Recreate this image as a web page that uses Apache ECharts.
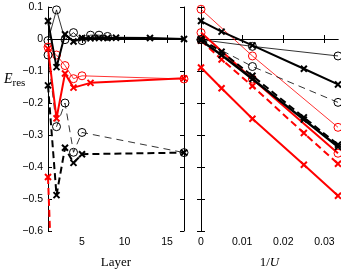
<!DOCTYPE html>
<html><head><meta charset="utf-8">
<script src="https://cdn.jsdelivr.net/npm/echarts@6/dist/echarts.min.js"></script>
<style>html,body{margin:0;padding:0;background:#fff}#c{width:341px;height:274px}</style>
</head><body><div id="c"></div><script>
// tick values
const layerTicks = [5, 10, 15];
const invUTicks = [0, 0.01, 0.02, 0.03];
const yTicks = [0.1, 0, -0.1, -0.2, -0.3, -0.4, -0.5, -0.6];

// Left panel: [layer, E_res]
const L_blackCircleSolid = [[1,-0.005],[2,0.091],[3,-0.002],[4,0.02],[5,-0.005],[6,0.012],[7,0.012],[8,0.008]];
const L_blackCrossSolid = [[1,0.056],[2,-0.088],[3,0.015],[4,-0.008],[5,0.003],[6,0.002],[7,0.003],[8,0.003],[9,0.004],[13,0.003],[17,0.0]];
const L_redCircleSolid = [[1,-0.025],[2,-0.05],[3,-0.083],[4,-0.124],[5,-0.115],[17,-0.125]];
const L_redCrossSolid = [[1,-0.03],[2,-0.248],[3,-0.108],[4,-0.152],[6,-0.137],[17,-0.123]];
const L_blackCircleDashed = [[1,-0.05],[2,-0.274],[3,-0.2],[4,-0.354],[5,-0.292],[17,-0.355]];
const L_blackCrossDashed = [[1,-0.145],[2,-0.488],[3,-0.34],[4,-0.387],[5,-0.36],[17,-0.355]];
const L_redCrossDashed = [[1,-0.431],[2,-1.15]];

// Right panel: [1/U, E_res]
const R_redCircleThin = [[0,0.093],[0.0125,-0.053],[0.0333,-0.276]];
const R_blackCrossSolid = [[0,0.056],[0.005,0.023],[0.0125,-0.02],[0.025,-0.093],[0.0333,-0.142]];
const R_blackCircleSolid = [[0,-0.002],[0.0125,-0.023],[0.0333,-0.053]];
const R_blackCircleDashed = [[0,-0.002],[0.0125,-0.086],[0.0333,-0.198]];
const R_blackCrossDashed = [[0,0.0],[0.005,-0.04],[0.0125,-0.115],[0.025,-0.245],[0.0333,-0.33]];
const R_blackCrossThick = [[0,-0.005],[0.005,-0.05],[0.0125,-0.125],[0.025,-0.252],[0.0333,-0.337]];
const R_redCircleThick = [[0,0.02],[0.0125,-0.125],[0.0333,-0.357]];
const R_redCrossDashed = [[0,-0.005],[0.005,-0.064],[0.0125,-0.147],[0.025,-0.294],[0.0333,-0.39]];
const R_redCrossSolid = [[0,-0.089],[0.005,-0.154],[0.0125,-0.249],[0.025,-0.393],[0.0333,-0.49]];

const RED = '#ff0000', BLK = '#000000';
const XSYM = 'path://M0,0L10,10M10,0L0,10';
const fmtY = v => Math.abs(v) < 1e-9 ? '0' : v.toFixed(1).replace('-', '\u2212');

function ser(data, color, kind, width, dash, gi) {
  const isX = kind === 'x';
  return {
    type: 'line', data, xAxisIndex: gi * 2, yAxisIndex: gi * 2,
    symbol: isX ? XSYM : 'circle', symbolSize: isX ? 6 : 8,
    showAllSymbol: true, animation: false, clip: true,
    lineStyle: { color, width, type: dash ? (width > 1.5 ? [7, 4] : [7, 5]) : 'solid' },
    itemStyle: { color: isX ? 'rgba(0,0,0,0)' : 'rgba(0,0,0,0)', borderColor: color, borderWidth: isX ? 2 : 1 },
    z: isX ? 3 : 2
  };
}

const tickStyle = { inside: true, length: 4, lineStyle: { color: '#000', width: 1 } };
const lineAx = { show: true, lineStyle: { color: '#000', width: 1 } };
const lab = { fontFamily: 'Liberation Sans, Arial, sans-serif', fontSize: 10.5, color: '#000' };

const option = {
  backgroundColor: '#fff',
  animation: false,
  grid: [
    { left: 48, top: 7, width: 136, height: 230 },
    { left: 201, top: 7, width: 137, height: 230 }
  ],
  xAxis: [
    { gridIndex: 0, type: 'value', min: 1, max: 17, position: 'bottom',
      axisLine: lineAx, splitLine: { show: false },
      axisTick: Object.assign({ customValues: layerTicks }, tickStyle),
      axisLabel: Object.assign({ customValues: layerTicks, margin: 6 }, lab),
      name: 'Layer', nameLocation: 'middle', nameGap: 25,
      nameTextStyle: { fontFamily: 'Liberation Serif, Times New Roman, serif', fontSize: 13, color: '#000' } },
    { gridIndex: 0, type: 'value', min: 1, max: 17, position: 'top',
      axisLine: lineAx, splitLine: { show: false },
      axisTick: Object.assign({ customValues: layerTicks }, tickStyle),
      axisLabel: { show: false } },
    { gridIndex: 1, type: 'value', min: 0, max: 0.0333, position: 'bottom',
      axisLine: lineAx, splitLine: { show: false },
      axisTick: Object.assign({ customValues: invUTicks }, tickStyle),
      axisLabel: Object.assign({ customValues: invUTicks, margin: 6, formatter: v => Math.abs(v) < 1e-9 ? '0' : v.toFixed(2) }, lab),
      name: '{n|1/}{i|U}', nameLocation: 'middle', nameGap: 25,
      nameTextStyle: { rich: {
        n: { fontFamily: 'Liberation Serif, Times New Roman, serif', fontSize: 13, color: '#000' },
        i: { fontFamily: 'Liberation Serif, Times New Roman, serif', fontSize: 13, fontStyle: 'italic', color: '#000' } } } },
    { gridIndex: 1, type: 'value', min: 0, max: 0.0333, position: 'top',
      axisLine: lineAx, splitLine: { show: false },
      axisTick: Object.assign({ customValues: invUTicks }, tickStyle),
      axisLabel: { show: false } }
  ],
  yAxis: [
    { gridIndex: 0, type: 'value', min: -0.6, max: 0.1, position: 'left',
      axisLine: lineAx, splitLine: { show: false },
      axisTick: Object.assign({ customValues: yTicks }, tickStyle),
      axisLabel: Object.assign({ customValues: yTicks, margin: 5, formatter: fmtY }, lab) },
    { gridIndex: 0, type: 'value', min: -0.6, max: 0.1, position: 'right',
      axisLine: lineAx, splitLine: { show: false },
      axisTick: Object.assign({ customValues: yTicks }, tickStyle),
      axisLabel: { show: false } },
    { gridIndex: 1, type: 'value', min: -0.6, max: 0.1, position: 'left',
      axisLine: lineAx, splitLine: { show: false },
      axisTick: Object.assign({ customValues: yTicks }, tickStyle),
      axisLabel: { show: false } },
    { gridIndex: 1, type: 'value', min: -0.6, max: 0.1, position: 'right',
      axisLine: lineAx, splitLine: { show: false },
      axisTick: Object.assign({ customValues: yTicks }, tickStyle),
      axisLabel: { show: false } }
  ],
  graphic: [
    { type: 'text', left: 4, top: 72, style: {
      text: '{e|E}{s|res}', rich: {
        e: { fontFamily: 'Liberation Serif, Times New Roman, serif', fontSize: 14, fontStyle: 'italic', fill: '#000' },
        s: { fontFamily: 'Liberation Serif, Times New Roman, serif', fontSize: 11, fill: '#000', padding: [8, 0, 0, 0] } } } }
  ],
  series: [
    ser(L_blackCircleSolid, BLK, 'o', 0.8, false, 0),
    ser(L_blackCrossSolid, BLK, 'x', 2, false, 0),
    ser(L_redCircleSolid, RED, 'o', 0.8, false, 0),
    ser(L_redCrossSolid, RED, 'x', 2, false, 0),
    ser(L_blackCircleDashed, BLK, 'o', 0.8, true, 0),
    ser(L_blackCrossDashed, BLK, 'x', 2, true, 0),
    ser(L_redCrossDashed, RED, 'x', 2, true, 0),
    ser(R_redCircleThin, RED, 'o', 0.8, false, 1),
    ser(R_blackCrossSolid, BLK, 'x', 2, false, 1),
    ser(R_blackCircleSolid, BLK, 'o', 0.8, false, 1),
    ser(R_blackCircleDashed, BLK, 'o', 0.8, true, 1),
    ser(R_redCircleThick, RED, 'o', 2, false, 1),
    ser(R_redCrossDashed, RED, 'x', 2, true, 1),
    ser(R_redCrossSolid, RED, 'x', 2, false, 1),
    ser(R_blackCrossDashed, BLK, 'x', 2, true, 1),
    ser(R_blackCrossThick, BLK, 'x', 2.5, false, 1)
  ]
};
const chart = echarts.init(document.getElementById('c'), null, { renderer: 'canvas' });
chart.setOption(option);
</script></body></html>
